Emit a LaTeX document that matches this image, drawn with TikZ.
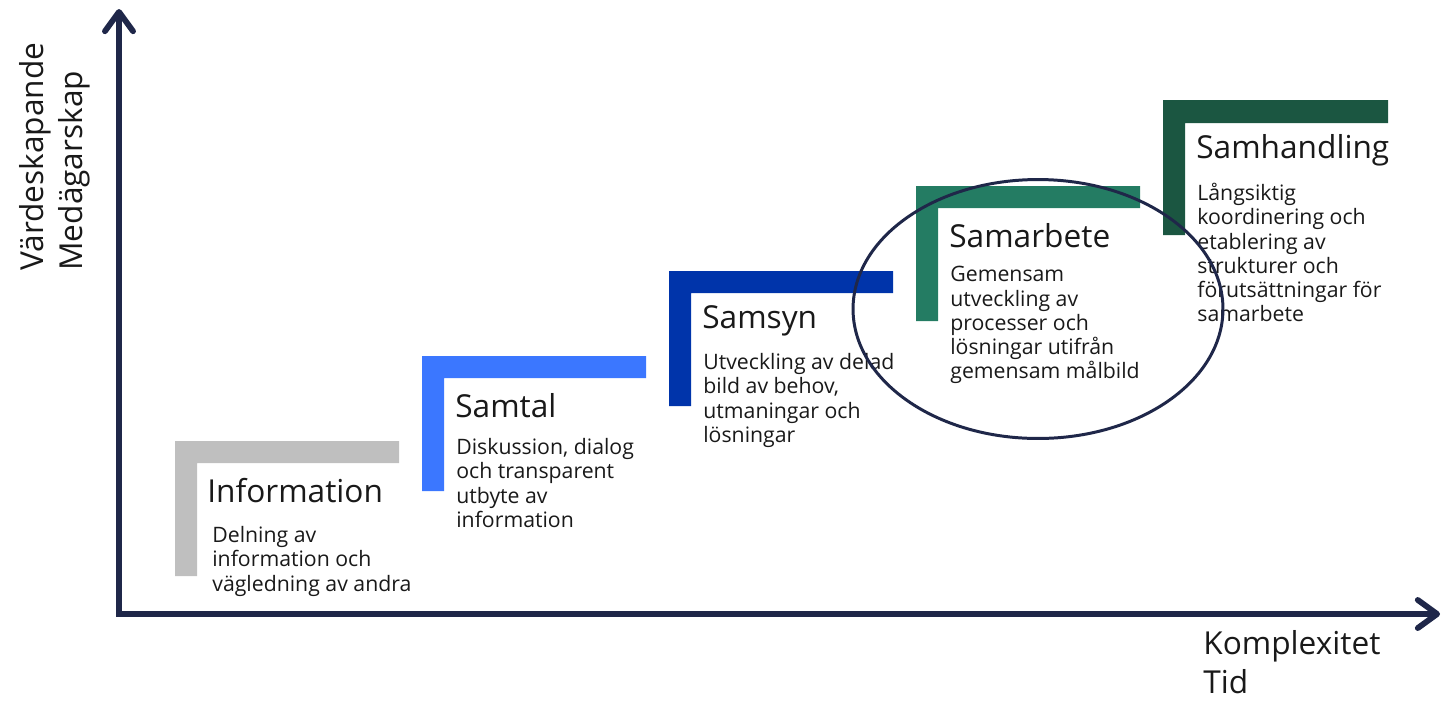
\documentclass[tikz,border=0pt]{standalone}
\usepackage{fontspec}
\setmainfont{Open Sans}
\usepackage{xcolor}
\usetikzlibrary{arrows.meta,shapes.geometric}

\definecolor{achse}{HTML}{1F2749}
\definecolor{grau}{HTML}{BFBFBF}
\definecolor{hellblau}{HTML}{3B77FF}
\definecolor{dunkelblau}{HTML}{0034AA}
\definecolor{gruen}{HTML}{247C63}
\definecolor{dunkelgruen}{HTML}{1B5641}

\begin{document}
\begin{tikzpicture}[x=0.02cm,y=-0.02cm,
		achsenpfeil/.style={draw=achse,line width=3.3pt,line cap=rect,
			-{Straight Barb[length=11pt,width=16pt,line cap=round,line join=round]}},
		titel/.style={anchor=west,inner sep=0pt,text=black!90,
			font=\fontsize{18pt}{22pt}\selectfont},
		beschreibung/.style={anchor=north west,inner sep=0pt,align=left,text=black!90,
			font=\fontsize{12.1pt}{13.8pt}\selectfont},
		achsentext/.style={inner sep=0pt,align=left,text=black!90,
			font=\fontsize{18pt}{22.5pt}\selectfont},
		kreis/.style={ellipse,draw=achse,line width=1.7pt,minimum width=7.4cm,minimum height=5.18cm}]
			% Rahmen festlegen
			\useasboundingbox (0,0) rectangle (1450,701);
			
			% Koordinatenachsen zeichnen
			\coordinate (ursprung) at (119,614);
			\coordinate (yspitze) at (119,9);
			\coordinate (xspitze) at (1440,614);
			\draw[achsenpfeil] (ursprung) -- (yspitze);
			\draw[achsenpfeil] (ursprung) -- (xspitze);
			
			% Achsenbeschriftungen eintragen
			\node[achsentext,rotate=90,anchor=west] (y-Achse) at (55,271) {Värdeskapande\\Medägarskap};
			\node[achsentext,anchor=north west] (x-Achse) at (1203,630) {Komplexitet\\Tid};
			
			% Stufen zeichnen
			\coordinate (info) at (175,441);
			\coordinate (samtal) at (422,356);
			\coordinate (samsyn) at (669,271);
			\coordinate (samarbete) at (916,186);
			\coordinate (samhandling) at (1163,100);
			\fill[grau] (info) -- ++(224,0) -- ++(0,22) -- ++(-202,0) -- ++(0,113) -- ++(-22,0) -- cycle;
			\fill[hellblau] (samtal) -- ++(224,0) -- ++(0,22) -- ++(-202,0) -- ++(0,113) -- ++(-22,0) -- cycle;
			\fill[dunkelblau] (samsyn) -- ++(224,0) -- ++(0,22) -- ++(-202,0) -- ++(0,113) -- ++(-22,0) -- cycle;
			\fill[gruen] (samarbete) -- ++(224,0) -- ++(0,22) -- ++(-202,0) -- ++(0,113) -- ++(-22,0) -- cycle;
			\fill[dunkelgruen] (samhandling) -- ++(225,0) -- ++(0,23) -- ++(-203,0) -- ++(0,112) -- ++(-22,0) -- cycle;
			
			% Titel der Stufen
			\node[titel] (info-titel) at (207,491) {Information};
			\node[titel] (samtal-titel) at (455,406) {Samtal};
			\node[titel] (samsyn-titel) at (702,321) {Samsyn};
			\node[titel] (samarbete-titel) at (949,236) {Samarbete};
			\node[titel] (samhandling-titel) at (1196,150) {Samhandling};
			
			% Beschreibungen
			\node[beschreibung] (info-text) at (212,526) {Delning av\\information och\\vägledning av andra};
			\node[beschreibung] (samtal-text) at (456,438) {Diskussion, dialog\\och transparent\\utbyte av\\information};
			\node[beschreibung] (samsyn-text) at (703,353) {Utveckling av delad\\bild av behov,\\utmaningar och\\lösningar};
			\node[beschreibung] (samarbete-text) at (950,266) {Gemensam\\utveckling av\\processer och\\lösningar utifrån\\gemensam målbild};
			\node[beschreibung] (samhandling-text) at (1197,183) {Långsiktig\\koordinering och\\etablering av\\strukturer och\\förutsättningar för\\samarbete};
			
			% Markierung
			\node[kreis] (markierung) at (1038,309) {};
	\end{tikzpicture}
\end{document}
